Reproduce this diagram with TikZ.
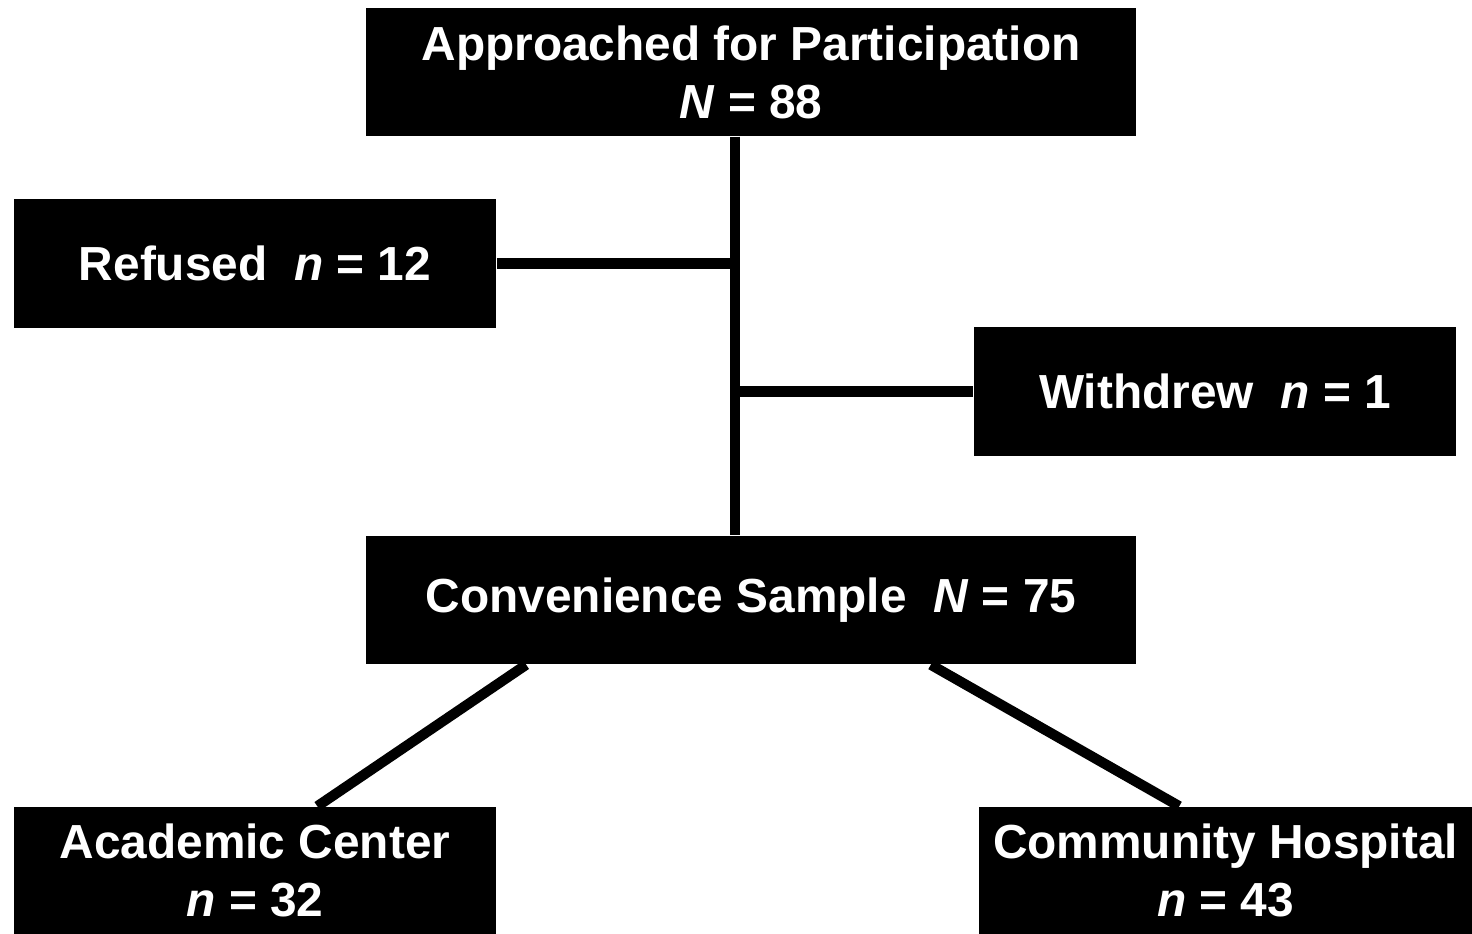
\documentclass[tikz,border=0pt]{standalone}
\usepackage{fontspec}
\setmainfont{Liberation Sans}
\usepackage{tikz}
\usetikzlibrary{positioning, calc}

\begin{document}
\begin{tikzpicture}[x=0.01cm, y=-0.01cm,
    flowbox/.style={rectangle, fill=black, text=white, align=center,
      inner sep=0pt, font=\fontsize{13.6}{16.5}\selectfont\bfseries},
    widebox/.style={flowbox, minimum width=7.70cm, minimum height=1.28cm},
    sidebox/.style={flowbox, minimum width=4.82cm, minimum height=1.29cm},
    link/.style={line width=2.9pt, draw=black}
]
\useasboundingbox (0,0) rectangle (1472,934);
\node[widebox] (approached) at (751,72)   {Approached for Participation\\\textit{N} = 88};
\node[sidebox] (refused)    at (255,263.5) {Refused \ \textit{n} = 12};
\node[sidebox] (withdrew)   at (1215,391.5) {Withdrew \ \textit{n} = 1};
\node[widebox] (sample)     at (751,600)  {Convenience Sample \ \textit{N} = 75};
\node[sidebox, minimum height=1.27cm] (academic)  at (255,870.5)  {Academic Center\\\textit{n} = 32};
\node[sidebox, minimum width=4.93cm, minimum height=1.27cm] (community) at (1225.5,870.5) {Community Hospital\\\textit{n} = 43};
\coordinate (spine) at (735,300);
\draw[link] (approached.south -| spine) -- (sample.north -| spine);
\draw[link] (refused.east) -- (refused.east -| spine);
\draw[link] (withdrew.west) -- (withdrew.west -| spine);
\draw[link] ([xshift=1.61cm]sample.south west) -- ([xshift=3.04cm]academic.north west);
\draw[link] ([xshift=-2.06cm]sample.south east) -- ([xshift=2.01cm]community.north west);
\end{tikzpicture}
\end{document}
